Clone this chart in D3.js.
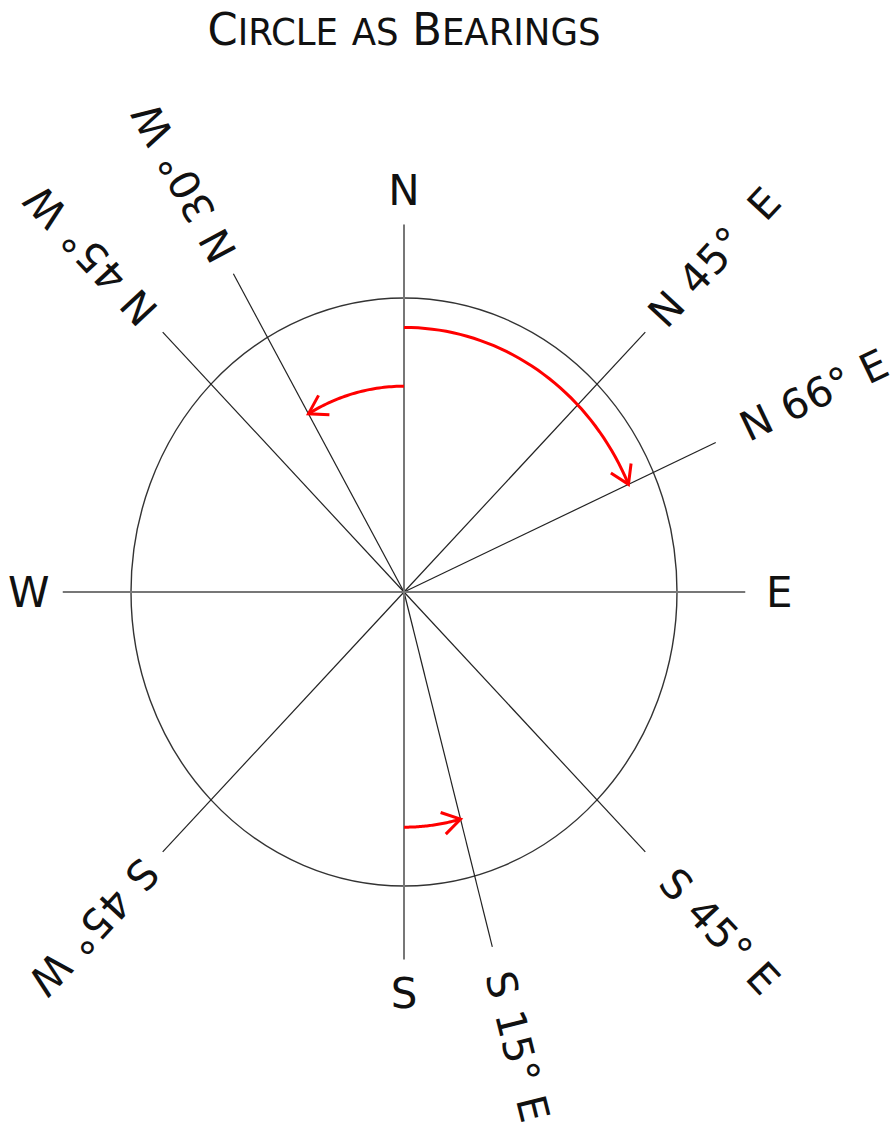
<!DOCTYPE html>
<meta charset="utf-8">
<style>
body { margin: 0; background: #fff; }
text { font-family: "DejaVu Sans", sans-serif; fill: #111; }
</style>
<body>
<script src="https://d3js.org/d3.v7.min.js"></script>
<script>

// cardinal directions
var cardinals = ["N", "E", "S", "W"];
var cardinalAngles = [0, 90, 180, 270];

// bearing lines (degrees clockwise from north)
var bearingLabels = ["N 45°  E", "N 66° E", "N 30° W", "N 45° W", "S 45° W", "S 15° E", "S 45° E"];
var bearingAngles = [45, 66, 330, 315, 225, 165, 135];

// red arrows: from angle, to angle, radius (unit circle)
var arrowFrom = [0, 0, 180];
var arrowTo = [66, -30, 165];
var arrowRadius = [0.9, 0.7, 0.8];

// title words: big first letter + small-cap rest
var titleFirst = ["C", "", "B"];
var titleRest = ["IRCLE", "AS", "EARINGS"];

// layout
var width = 893, height = 1128;
var cx = 404, cy = 592, rx = 273, ry = 294;
var lineLen = 1.25;
var labelGap = [16, 30, 17, 19, 18, 26, 32];

var x = d3.scaleLinear().domain([-1, 1]).range([cx - rx, cx + rx]);
var y = d3.scaleLinear().domain([-1, 1]).range([cy + ry, cy - ry]);

function pt(deg, r) {
  var a = deg * Math.PI / 180;
  return [x(r * Math.sin(a)), y(r * Math.cos(a))];
}

var svg = d3.select("body").append("svg")
    .attr("width", width)
    .attr("height", height);

// title
var title = svg.append("text")
    .attr("x", cx)
    .attr("y", 45)
    .attr("text-anchor", "middle")
    .attr("textLength", 393)
    .attr("lengthAdjust", "spacingAndGlyphs")
    .attr("xml:space", "preserve")
    .style("white-space", "pre")
    .style("font-family", "'DejaVu Sans Condensed', 'DejaVu Sans', sans-serif");
titleFirst.forEach(function(c, i) {
  title.append("tspan").attr("font-size", 45).text((i > 0 ? " " : "") + c);
  title.append("tspan").attr("font-size", 37).text(titleRest[i]);
});

// circle
svg.append("ellipse")
    .attr("cx", x(0)).attr("cy", y(0))
    .attr("rx", x(1) - x(0)).attr("ry", y(0) - y(1))
    .attr("fill", "none")
    .attr("stroke", "#333")
    .attr("stroke-width", 1.4);

// bearing lines
svg.selectAll(".bearing")
    .data(bearingAngles)
  .enter().append("line")
    .attr("class", "bearing")
    .attr("x1", x(0)).attr("y1", y(0))
    .attr("x2", function(d) { return pt(d, lineLen)[0]; })
    .attr("y2", function(d) { return pt(d, lineLen)[1]; })
    .attr("stroke", "#222")
    .attr("stroke-width", 1.2);

// cardinal lines
svg.selectAll(".cardinal")
    .data(cardinalAngles)
  .enter().append("line")
    .attr("class", "cardinal")
    .attr("x1", x(0)).attr("y1", y(0))
    .attr("x2", function(d) { return pt(d, lineLen)[0]; })
    .attr("y2", function(d) { return pt(d, lineLen)[1]; })
    .attr("stroke", "#777")
    .attr("stroke-width", 2);

// cardinal labels
svg.selectAll(".clabel")
    .data(cardinalAngles)
  .enter().append("text")
    .attr("class", "clabel")
    .attr("x", function(d) {
      var p = pt(d, lineLen), a = d * Math.PI / 180;
      return p[0] + 34 * Math.sin(a);
    })
    .attr("y", function(d) {
      var p = pt(d, lineLen), a = d * Math.PI / 180;
      return p[1] - 34 * Math.cos(a);
    })
    .attr("text-anchor", "middle")
    .attr("dominant-baseline", "central")
    .attr("font-size", 42)
    .text(function(d, i) { return cardinals[i]; });

// bearing labels, rotated along the line
svg.selectAll(".blabel")
    .data(bearingAngles)
  .enter().append("text")
    .attr("class", "blabel")
    .attr("transform", function(d, i) {
      var p = pt(d, lineLen);
      var dx = p[0] - x(0), dy = p[1] - y(0);
      var len = Math.sqrt(dx * dx + dy * dy);
      var tx = p[0] + labelGap[i] * dx / len, ty = p[1] + labelGap[i] * dy / len;
      var rot = Math.atan2(dy, dx) * 180 / Math.PI;
      return "translate(" + tx + "," + ty + ") rotate(" + rot + ")";
    })
    .attr("dominant-baseline", "central")
    .attr("font-size", 41)
    .attr("letter-spacing", 0.5)
    .attr("xml:space", "preserve")
    .style("white-space", "pre")
    .text(function(d, i) { return bearingLabels[i]; });

// red arrows
var line = d3.line();
arrowFrom.forEach(function(a0, i) {
  var a1 = arrowTo[i], r = arrowRadius[i];
  var n = 40;
  var pts = d3.range(n + 1).map(function(k) { return pt(a0 + (a1 - a0) * k / n, r); });
  svg.append("path")
      .attr("d", line(pts))
      .attr("fill", "none")
      .attr("stroke", "#ff0000")
      .attr("stroke-width", 3);
  // head
  var tip = pts[n];
  var back = pt(a1 - (a1 - a0) / Math.abs(a1 - a0) * 5, r);
  var ang = Math.atan2(back[1] - tip[1], back[0] - tip[0]);
  var hl = 21, spread = 32 * Math.PI / 180;
  var h1 = [tip[0] + hl * Math.cos(ang + spread), tip[1] + hl * Math.sin(ang + spread)];
  var h2 = [tip[0] + hl * Math.cos(ang - spread), tip[1] + hl * Math.sin(ang - spread)];
  svg.append("path")
      .attr("d", line([h1, tip, h2]))
      .attr("fill", "none")
      .attr("stroke", "#ff0000")
      .attr("stroke-width", 3)
      .attr("stroke-linejoin", "miter");
});

</script>
</body>
